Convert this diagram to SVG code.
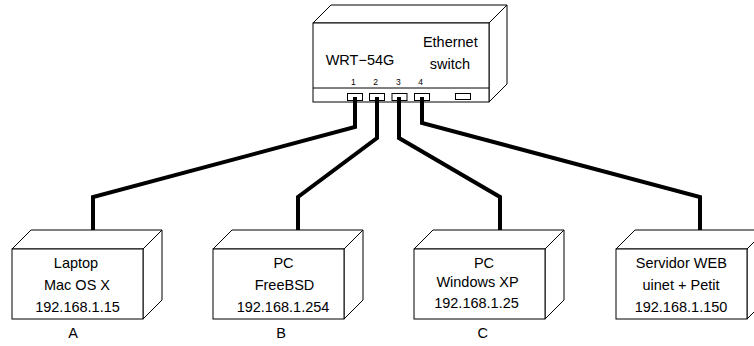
<svg xmlns="http://www.w3.org/2000/svg" width="754" height="346" viewBox="0 0 754 346">
<style>
.f{fill:#fff;stroke:#000;stroke-width:1;stroke-linejoin:miter}
.p{fill:none;stroke:#000;stroke-width:1}
.w{fill:none;stroke:#000;stroke-width:4;stroke-linejoin:miter}
.t{font-family:"Liberation Sans",Arial,sans-serif;font-size:14.5px;fill:#000}
.c{text-anchor:middle}
.n{font-family:"Liberation Sans",Arial,sans-serif;font-size:8.5px;fill:#000;text-anchor:middle}
</style>
<rect width="754" height="346" fill="#fff"/>
<g id="switch">
<polygon class="f" points="313,23 331,5 507,5 489,23"/>
<polygon class="f" points="489,23 507,5 507,84 489,102"/>
<rect class="f" x="313" y="23" width="176" height="79"/>
<line x1="313" y1="88" x2="489" y2="88" stroke="#000" stroke-width="1"/>
<rect class="p" x="347.5" y="93.5" width="15" height="7"/>
<rect class="p" x="369.5" y="93.5" width="15" height="7"/>
<rect class="p" x="392" y="93.5" width="15" height="7"/>
<rect class="p" x="414.5" y="93.5" width="15" height="7"/>
<rect class="p" x="455.5" y="93.5" width="15" height="6"/>
<text class="t" x="325.7" y="65">WRT−54G</text>
<text class="t c" x="450.3" y="46.7">Ethernet</text>
<text class="t c" x="450" y="69.3">switch</text>
<text class="n" x="353.3" y="85">1</text>
<text class="n" x="375.7" y="85">2</text>
<text class="n" x="398.3" y="85">3</text>
<text class="n" x="420.5" y="85">4</text>
</g>
<g id="connectors">
<polyline class="w" points="355,97 355,127 93,197 93,231"/>
<polyline class="w" points="377,97 377,138 298,197 298,231"/>
<polyline class="w" points="399,97 399,138 500,197 500,231"/>
<polyline class="w" points="422,97 422,123 700,197 700,231"/>
</g>
<g id="nodeA">
<polygon class="f" points="12,249 31,230 162,230 143,249"/>
<polygon class="f" points="143,249 162,230 162,300 143,319"/>
<rect class="f" x="12" y="249" width="131" height="70"/>
<text class="t c" x="76" y="267.7">Laptop</text>
<text class="t c" x="77" y="290">Mac OS X</text>
<text class="t c" x="77.5" y="312.3">192.168.1.15</text>
<text class="t c" x="73" y="338.3">A</text>
</g>
<g id="nodeB">
<polygon class="f" points="213,249 232,230 363,230 344,249"/>
<polygon class="f" points="344,249 363,230 363,300 344,319"/>
<rect class="f" x="213" y="249" width="131" height="70"/>
<text class="t c" x="283.5" y="267.7">PC</text>
<text class="t c" x="284.5" y="290">FreeBSD</text>
<text class="t c" x="283" y="312.3">192.168.1.254</text>
<text class="t c" x="281" y="338.3">B</text>
</g>
<g id="nodeC">
<polygon class="f" points="414,249 433,230 564,230 545,249"/>
<polygon class="f" points="545,249 564,230 564,300 545,319"/>
<rect class="f" x="414" y="249" width="131" height="70"/>
<text class="t c" x="484" y="267.7">PC</text>
<text class="t c" x="477.5" y="286.7">Windows XP</text>
<text class="t c" x="476.5" y="308.3">192.168.1.25</text>
<text class="t c" x="482.7" y="338.3">C</text>
</g>
<g id="nodeD">
<polygon class="f" points="616,249 635,230 766,230 747,249"/>
<polygon class="f" points="747,249 766,230 766,300 747,319"/>
<rect class="f" x="616" y="249" width="131" height="70"/>
<text class="t c" x="681.3" y="267.7">Servidor WEB</text>
<text class="t c" x="681" y="290">uinet + Petit</text>
<text class="t c" x="681" y="312.3">192.168.1.150</text>
</g>
</svg>
